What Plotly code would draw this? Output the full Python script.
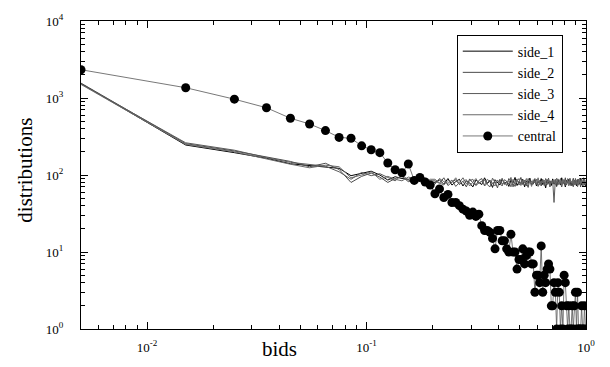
import plotly.graph_objects as go

# bin centres (bin width 0.01)
bids = [round(0.005 + 0.01 * k, 3) for k in range(100)]

side_1 = [1540, 245, 195, 165, 140, 132, 126, 122, 98, 104,
          112, 100, 86, 95, 90, 88, 92, 84, 86, 82,
          80, 86, 76, 90, 74, 82, 88, 72, 84, 79,
          70, 86, 81, 75, 92, 78, 83, 69, 87, 80,
          74, 89, 77, 82, 71, 85, 79, 93, 73, 81,
          76, 88, 70, 84, 78, 91, 74, 80, 86, 72,
          83, 77, 90, 75, 81, 68, 87, 79, 84, 73,
          89, 76, 82, 71, 86, 80, 74, 92, 78, 83,
          70, 85, 79, 88, 75, 81, 73, 90, 77, 84,
          72, 86, 80, 76, 91, 74, 82, 78, 87, 71]
side_2 = [1560, 255, 205, 172, 150, 128, 142, 118, 80, 96,
          106, 94, 80, 90, 96, 82, 86, 90, 80, 84,
          84, 78, 92, 73, 81, 87, 75, 83, 70, 89,
          79, 74, 85, 90, 72, 80, 86, 77, 82, 68,
          88, 76, 81, 73, 90, 84, 78, 71, 86, 80,
          93, 75, 82, 79, 69, 87, 83, 76, 90, 74,
          80, 85, 72, 88, 78, 82, 75, 91, 70, 84,
          77, 80, 86, 73, 89, 79, 83, 70, 85, 76,
          92, 74, 81, 78, 87, 72, 84, 80, 75, 90,
          79, 73, 88, 82, 70, 85, 77, 92, 74, 81]
side_3 = [1520, 262, 210, 168, 146, 136, 130, 110, 88, 108,
          98, 104, 92, 84, 100, 86, 80, 88, 92, 78,
          76, 90, 82, 78, 86, 71, 80, 92, 77, 84,
          88, 73, 79, 82, 86, 75, 70, 91, 80, 85,
          78, 72, 87, 83, 76, 93, 70, 82, 89, 74,
          81, 78, 86, 72, 90, 80, 75, 84, 79, 88,
          71, 82, 77, 86, 73, 90, 81, 76, 83, 79,
          85, 44, 88, 78, 74, 82, 90, 76, 80, 87,
          73, 80, 84, 77, 91, 79, 83, 70, 86, 75,
          80, 88, 74, 83, 78, 90, 72, 85, 81, 76]
side_4 = [1500, 250, 200, 160, 138, 124, 134, 128, 92, 100,
          110, 88, 96, 88, 84, 94, 90, 82, 78, 88,
          88, 79, 74, 85, 80, 92, 76, 83, 87, 72,
          81, 90, 77, 84, 74, 88, 82, 79, 72, 86,
          80, 91, 75, 79, 84, 70, 88, 76, 82, 90,
          73, 85, 79, 90, 76, 83, 71, 87, 80, 78,
          92, 74, 84, 79, 86, 75, 80, 89, 72, 83,
          78, 87, 74, 91, 80, 76, 84, 73, 88, 79,
          82, 77, 90, 72, 85, 81, 78, 88, 74, 83,
          86, 70, 80, 91, 77, 84, 79, 73, 87, 82]
central = [2330, 1360, 965, 747, 546, 460, 377, 308, 300, 239,
           213, 195, 143, 117, 107, 139, 85, 93, 81, 74,
           57, 66, 51, 56, 44, 44, 40, 36, 34, 30,
           33, 29, 31, 22, 19, 19, 18, 15, 11, 19,
           19, 14, 14, 11, 10, 17, 10, 10, 6, 8,
           8, 11, 7, 9, 10, 10, 7, 7, 3, 5,
           5, 4, 12, 3, 5, 4, 6, 7, 6, 2,
           2, 4, 3, 1, 4, 3, 1, 2, 1, 5,
           4, 2, 1, 2, 1, 1, 2, 1, 2, 3,
           1, 3, 1, 1, 1, 2, 1, 1, 2, 1]

x_major = [0.01, 0.1, 1]
x_major_text = ["10<sup>-2</sup>", "10<sup>-1</sup>", "10<sup>0</sup>"]
x_minor = [0.006, 0.007, 0.008, 0.009,
           0.02, 0.03, 0.04, 0.05, 0.06, 0.07, 0.08, 0.09,
           0.2, 0.3, 0.4, 0.5, 0.6, 0.7, 0.8, 0.9]
y_major = [1, 10, 100, 1000, 10000]
y_major_text = ["10<sup>0</sup>", "10<sup>1</sup>", "10<sup>2</sup>", "10<sup>3</sup>", "10<sup>4</sup>"]
y_minor = [m * d for d in (1, 10, 100, 1000) for m in range(2, 10)]

FONT = "Liberation Serif"

fig = go.Figure()
side_colors = ["#000000", "#4a4a4a", "#5a5a5a", "#6a6a6a"]
for name, ys, col in zip(["side_1", "side_2", "side_3", "side_4"],
                         [side_1, side_2, side_3, side_4], side_colors):
    fig.add_trace(go.Scatter(x=bids, y=ys, mode="lines", name=name,
                             line=dict(color=col, width=1)))
fig.add_trace(go.Scatter(x=bids, y=central, mode="lines+markers", name="central",
                         line=dict(color="#555555", width=0.8),
                         marker=dict(color="black", size=9, symbol="circle")))

axis_common = dict(type="log", showline=True, linecolor="black", linewidth=1,
                   mirror="allticks", ticks="inside", ticklen=7, tickwidth=1,
                   tickcolor="black", showgrid=False, zeroline=False,
                   tickfont=dict(family=FONT, size=13, color="black"))

fig.update_xaxes(**axis_common, range=[-2.30103, 0], tickmode="array",
                 tickvals=x_major, ticktext=x_major_text, ticklabelstandoff=6,
                 minor=dict(tickvals=x_minor, ticks="inside", ticklen=4,
                            tickcolor="black", showgrid=False))
fig.update_yaxes(**axis_common, range=[0, 4], tickmode="array",
                 tickvals=y_major, ticktext=y_major_text, ticklabelstandoff=14,
                 minor=dict(tickvals=y_minor, ticks="inside", ticklen=4,
                            tickcolor="black", showgrid=False))

fig.update_layout(
    width=610, height=367,
    margin=dict(l=81, r=24, t=13, b=31),
    paper_bgcolor="white", plot_bgcolor="white",
    font=dict(family=FONT, color="black"),
    showlegend=True,
    legend=dict(x=0.954, y=0.956, xanchor="right", yanchor="top",
                bordercolor="black", borderwidth=1, bgcolor="white",
                font=dict(family=FONT, size=14, color="black"),
                tracegroupgap=0, itemwidth=50),
    annotations=[
        dict(text="bids", xref="paper", yref="paper", x=0.394, y=-0.065,
             xanchor="center", yanchor="middle", showarrow=False,
             font=dict(family=FONT, size=21, color="black")),
        dict(text="distributions", xref="paper", yref="paper", x=-0.111, y=0.517,
             xanchor="center", yanchor="middle", textangle=-90, showarrow=False,
             font=dict(family=FONT, size=21, color="black")),
    ],
)

fig.write_html("out.html")
